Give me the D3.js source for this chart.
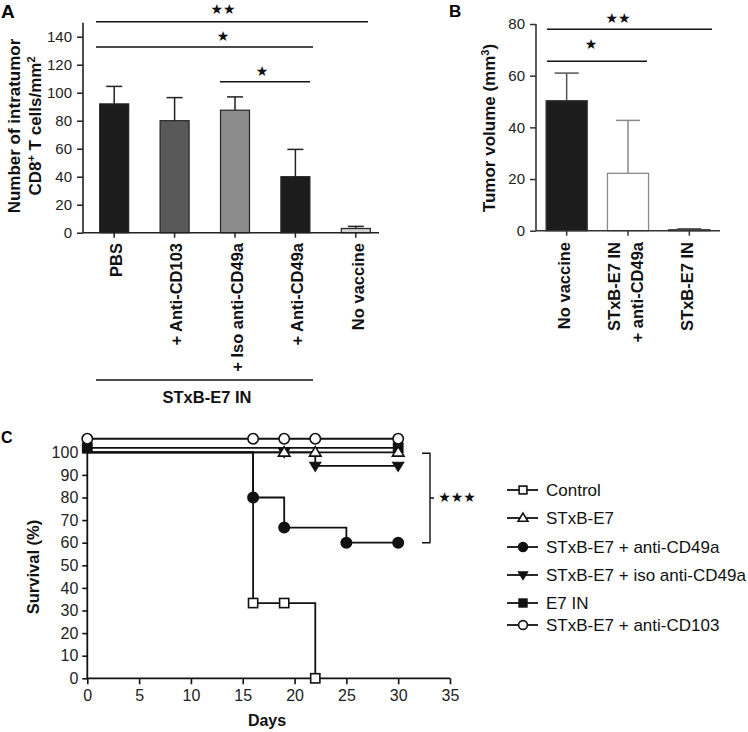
<!DOCTYPE html>
<html><head><meta charset="utf-8">
<script src="https://cdn.jsdelivr.net/npm/d3@7"></script>
<style>body{margin:0;background:#fff} svg{display:block;font-family:"Liberation Sans",Arial,Helvetica,sans-serif}</style>
</head><body><svg id="c" width="748" height="732"></svg>
<script>
// ---------- data ----------
const catA = ["PBS", "+ Anti-CD103", "+ Iso anti-CD49a", "+ Anti-CD49a", "No vaccine"];
const meanA = [92, 80, 87.5, 40, 3];
const errTopA = [104.5, 96.5, 97, 59.5, 4.5];
const fillA = ["#1c1c1c", "#595959", "#8c8c8c", "#1c1c1c", "#d2d2d2"];
const ticksA = [0, 20, 40, 60, 80, 100, 120, 140];

const catB = [["No vaccine"], ["STxB-E7 IN", "+ anti-CD49a"], ["STxB-E7 IN"]];
const meanB = [50.3, 22.2, 0.4];
const errTopB = [61, 42.7, 0.7];
const fillB = ["#1c1c1c", "#ffffff", "#ffffff"];
const strokeB = ["#333", "#8a8a8a", "#444"];
const ticksB = [0, 20, 40, 60, 80];

const seriesC = ["Control", "STxB-E7", "STxB-E7 + anti-CD49a", "STxB-E7 + iso anti-CD49a", "E7 IN", "STxB-E7 + anti-CD103"];
const symC = ["square-open", "tri-open", "circle", "tri-down", "square", "circle-open"];
const daysC = [[0, 16, 19, 22], [0, 19, 22, 30], [0, 16, 19, 25, 30], [0, 19, 22, 30], [0, 30], [0, 16, 19, 22, 30]];
const survC = [[100, 33.3, 33.3, 0], [100, 100, 100, 100], [100, 80, 66.7, 60, 60], [100, 100, 94, 94], [102, 102], [106, 106, 106, 106, 106]];
const markC = [[0, 1, 1, 1], [0, 1, 1, 1], [0, 1, 1, 1, 1], [0, 1, 1, 1], [1, 1], [1, 1, 1, 1, 1]];
const ticksCx = [0, 5, 10, 15, 20, 25, 30, 35];
const ticksCy = [0, 10, 20, 30, 40, 50, 60, 70, 80, 90, 100];

// ---------- helpers ----------
const svg = d3.select("#c");
const STAR = "\u2605";
function stars(g, n, x, y, fs) {
  g.append("text").attr("x", x).attr("y", y).attr("dy", "0.35em").attr("text-anchor", "middle")
    .style("font-family", "DejaVu Sans").style("font-size", fs + "px").attr("fill", "#111")
    .text(STAR.repeat(n));
}
function hline(g, x1, x2, y, col) {
  g.append("line").attr("x1", x1).attr("x2", x2).attr("y1", y).attr("y2", y)
    .attr("stroke", col || "#111").attr("stroke-width", 1.6);
}

// ---------- Panel A ----------
const gA = svg.append("g");
const yA = d3.scaleLinear().domain([0, 150]).range([232.7, 22.7]);
const xA = d3.scalePoint().domain(catA).range([84, 386]).padding(0.5);
const bwA = xA.step() * 0.48;

gA.append("text").attr("x", 1).attr("y", 18).style("font-size", "19px").style("font-weight", "bold").text("A");

const axA = gA.append("g").attr("transform", "translate(83,0)")
  .call(d3.axisLeft(yA).tickValues(ticksA).tickSize(6).tickPadding(5));
axA.select(".domain").remove();
gA.append("line").attr("x1", 83).attr("x2", 83).attr("y1", yA(150)).attr("y2", yA(0)).attr("stroke", "#222").attr("stroke-width", 1.6);
axA.selectAll(".tick line").attr("stroke", "#222").attr("stroke-width", 1.5);
axA.selectAll(".tick text").style("font-size", "15px").attr("fill", "#222").style("font-family", "inherit");

catA.forEach((c, i) => {
  const cx = xA(c);
  gA.append("line").attr("x1", cx).attr("x2", cx).attr("y1", yA(meanA[i])).attr("y2", yA(errTopA[i])).attr("stroke", "#222").attr("stroke-width", 1.5);
  gA.append("line").attr("x1", cx - 8).attr("x2", cx + 8).attr("y1", yA(errTopA[i])).attr("y2", yA(errTopA[i])).attr("stroke", "#222").attr("stroke-width", 1.5);
  gA.append("rect").attr("x", cx - bwA / 2).attr("y", yA(meanA[i])).attr("width", bwA).attr("height", yA(0) - yA(meanA[i]))
    .attr("fill", fillA[i]).attr("stroke", "#222").attr("stroke-width", 1.2);
  gA.append("line").attr("x1", cx).attr("x2", cx).attr("y1", yA(0)).attr("y2", yA(0) + 5).attr("stroke", "#222").attr("stroke-width", 1.5);
  gA.append("text").attr("transform", `translate(${cx + 2},243) rotate(-90)`).attr("dy", "0.35em")
    .attr("text-anchor", "end").style("font-size", "16.5px").style("font-weight", "bold").attr("fill", "#111").text(c);
});
gA.append("line").attr("x1", 83).attr("x2", 379).attr("y1", yA(0)).attr("y2", yA(0)).attr("stroke", "#222").attr("stroke-width", 1.6);

gA.append("text").attr("transform", "translate(20,126) rotate(-90)").attr("text-anchor", "middle")
  .style("font-size", "17px").style("font-weight", "bold").attr("fill", "#111").text("Number of intratumor");
const yl2 = gA.append("text").attr("transform", "translate(41,126) rotate(-90)").attr("text-anchor", "middle")
  .style("font-size", "17px").style("font-weight", "bold").attr("fill", "#111");
yl2.append("tspan").text("CD8");
yl2.append("tspan").attr("baseline-shift", "super").style("font-size", "11px").text("+");
yl2.append("tspan").text(" T cells/mm");
yl2.append("tspan").attr("baseline-shift", "super").style("font-size", "11px").text("2");

hline(gA, 96, 368, 21.7); stars(gA, 2, 223, 9, 14);
hline(gA, 96, 313, 47); stars(gA, 1, 223, 36.5, 14);
hline(gA, 220, 310, 81.7); stars(gA, 1, 262, 71, 14);

hline(gA, 96, 313, 380);
gA.append("text").attr("x", 207).attr("y", 403).attr("text-anchor", "middle").style("font-size", "16.5px").style("font-weight", "bold").attr("fill", "#111").text("STxB-E7 IN");

// ---------- Panel B ----------
const gB = svg.append("g");
const yB = d3.scaleLinear().domain([0, 80]).range([230.7, 24]);
const xB = d3.scalePoint().domain(d3.range(catB.length)).range([536, 720]).padding(0.5);
const bwB = xB.step() * 0.67;

gB.append("text").attr("x", 449).attr("y", 17).style("font-size", "17px").style("font-weight", "bold").text("B");

const axB = gB.append("g").attr("transform", "translate(536,0)")
  .call(d3.axisLeft(yB).tickValues(ticksB).tickSize(6).tickPadding(5));
axB.select(".domain").remove();
gB.append("line").attr("x1", 536).attr("x2", 536).attr("y1", yB(80)).attr("y2", yB(0)).attr("stroke", "#333").attr("stroke-width", 1.6);
axB.selectAll(".tick line").attr("stroke", "#333").attr("stroke-width", 1.5);
axB.selectAll(".tick text").style("font-size", "15px").attr("fill", "#222").style("font-family", "inherit");

catB.forEach((lines, i) => {
  const cx = xB(i);
  const ec = i === 0 ? "#555" : strokeB[i];
  gB.append("line").attr("x1", cx).attr("x2", cx).attr("y1", yB(meanB[i])).attr("y2", yB(errTopB[i])).attr("stroke", ec).attr("stroke-width", 1.5);
  gB.append("line").attr("x1", cx - 12).attr("x2", cx + 12).attr("y1", yB(errTopB[i])).attr("y2", yB(errTopB[i])).attr("stroke", ec).attr("stroke-width", 1.5);
  gB.append("rect").attr("x", cx - bwB / 2).attr("y", yB(meanB[i])).attr("width", bwB).attr("height", yB(0) - yB(meanB[i]))
    .attr("fill", fillB[i]).attr("stroke", strokeB[i]).attr("stroke-width", 1.3);
  gB.append("line").attr("x1", cx).attr("x2", cx).attr("y1", yB(0)).attr("y2", yB(0) + 5).attr("stroke", "#333").attr("stroke-width", 1.5);
  const n = lines.length;
  lines.forEach((t, k) => {
    const off = (k - (n - 1) / 2) * 23;
    gB.append("text").attr("transform", `translate(${cx + off - 2},242) rotate(-90)`).attr("dy", "0.35em")
      .attr("text-anchor", "end").style("font-size", "16.5px").style("font-weight", "bold").attr("fill", "#111").text(t);
  });
});
gB.append("line").attr("x1", 536).attr("x2", 720).attr("y1", yB(0)).attr("y2", yB(0)).attr("stroke", "#333").attr("stroke-width", 1.6);

const ylB = gB.append("text").attr("transform", "translate(495,128) rotate(-90)").attr("text-anchor", "middle")
  .style("font-size", "17px").style("font-weight", "bold").attr("fill", "#111");
ylB.append("tspan").text("Tumor volume (mm");
ylB.append("tspan").attr("baseline-shift", "super").style("font-size", "11px").text("3");
ylB.append("tspan").text(")");

hline(gB, 547, 712, 29.3); stars(gB, 2, 618, 18, 14);
hline(gB, 547, 647, 61.3); stars(gB, 1, 591, 44.5, 14);

// ---------- Panel C ----------
const gC = svg.append("g");
const xC = d3.scaleLinear().domain([0, 35]).range([87.3, 450]);
const yC = d3.scaleLinear().domain([0, 100]).range([678.3, 452.3]);

gC.append("text").attr("x", 1).attr("y", 443).style("font-size", "16px").style("font-weight", "bold").text("C");

const axCy = gC.append("g").attr("transform", "translate(87.3,0)")
  .call(d3.axisLeft(yC).tickValues(ticksCy).tickSize(5).tickPadding(4));
axCy.select(".domain").remove();
axCy.selectAll(".tick line").attr("stroke", "#111").attr("stroke-width", 1.6);
axCy.selectAll(".tick text").style("font-size", "16px").attr("fill", "#222").style("font-family", "inherit");
const axCx = gC.append("g").attr("transform", "translate(0,678.3)")
  .call(d3.axisBottom(xC).tickValues(ticksCx).tickSize(6).tickPadding(5));
axCx.select(".domain").remove();
axCx.selectAll(".tick line").attr("stroke", "#111").attr("stroke-width", 1.6);
axCx.selectAll(".tick text").style("font-size", "16px").attr("fill", "#222").style("font-family", "inherit");
gC.append("line").attr("x1", xC(0)).attr("x2", xC(0)).attr("y1", yC(106)).attr("y2", yC(0)).attr("stroke", "#111").attr("stroke-width", 1.8);
gC.append("line").attr("x1", xC(0)).attr("x2", xC(35)).attr("y1", yC(0)).attr("y2", yC(0)).attr("stroke", "#111").attr("stroke-width", 1.8);

gC.append("text").attr("transform", "translate(39,567) rotate(-90)").attr("text-anchor", "middle")
  .style("font-size", "16.5px").style("font-weight", "bold").attr("fill", "#111").text("Survival (%)");
gC.append("text").attr("x", 267).attr("y", 726).attr("text-anchor", "middle")
  .style("font-size", "16px").style("font-weight", "bold").attr("fill", "#111").text("Days");

function marker(g, type, x, y, s) {
  s = s || 1;
  if (type === "circle" || type === "circle-open") {
    g.append("circle").attr("cx", x).attr("cy", y).attr("r", 5.2 * s)
      .attr("fill", type === "circle" ? "#111" : "#fff").attr("stroke", "#111").attr("stroke-width", 1.6);
  } else if (type === "square" || type === "square-open") {
    const h = 4.6 * s;
    g.append("rect").attr("x", x - h).attr("y", y - h).attr("width", 2 * h).attr("height", 2 * h)
      .attr("fill", type === "square" ? "#111" : "#fff").attr("stroke", "#111").attr("stroke-width", 1.6);
  } else if (type === "tri-open") {
    const w = 5.8 * s, h = 9.5 * s;
    g.append("path").attr("d", `M${x},${y - h * 0.6}L${x + w},${y + h * 0.4}L${x - w},${y + h * 0.4}Z`)
      .attr("fill", "#fff").attr("stroke", "#111").attr("stroke-width", 1.6);
  } else if (type === "tri-down") {
    const w = 5.5 * s, h = 9 * s;
    g.append("path").attr("d", `M${x},${y + h * 0.6}L${x + w},${y - h * 0.4}L${x - w},${y - h * 0.4}Z`)
      .attr("fill", "#111").attr("stroke", "#111").attr("stroke-width", 1.2);
  }
}

const line = d3.line().x(d => xC(d[0])).y(d => yC(d[1])).curve(d3.curveStepAfter);
[0, 2, 3, 1, 4, 5].forEach(i => {
  const pts = daysC[i].map((d, k) => [d, survC[i][k]]);
  gC.append("path").attr("d", line(pts)).attr("fill", "none").attr("stroke", "#111").attr("stroke-width", 1.8);
});
[4, 3, 1, 0, 2, 5].forEach(i => {
  daysC[i].forEach((d, k) => {
    if (markC[i][k]) marker(gC, symC[i], xC(d), yC(survC[i][k]));
  });
});

const bTop = yC(100) + 1, bBot = yC(60);
gC.append("path").attr("d", `M422,${bTop}H430V${bBot}H422M430,${(bTop + bBot) / 2}H434`)
  .attr("fill", "none").attr("stroke", "#111").attr("stroke-width", 1.4);
stars(gC, 3, 457, (bTop + bBot) / 2 - 1, 14);

const legY = [490, 518, 547, 575, 603, 625];
seriesC.forEach((s, i) => {
  const lg = svg.append("g");
  lg.append("line").attr("x1", 507).attr("x2", 538).attr("y1", legY[i]).attr("y2", legY[i]).attr("stroke", "#111").attr("stroke-width", 1.8);
  marker(lg, symC[i], 523, legY[i], 0.85);
  lg.append("text").attr("x", 546).attr("y", legY[i]).attr("dy", "0.36em").style("font-size", "17px").attr("fill", "#111").text(s);
});
</script>
</body></html>
